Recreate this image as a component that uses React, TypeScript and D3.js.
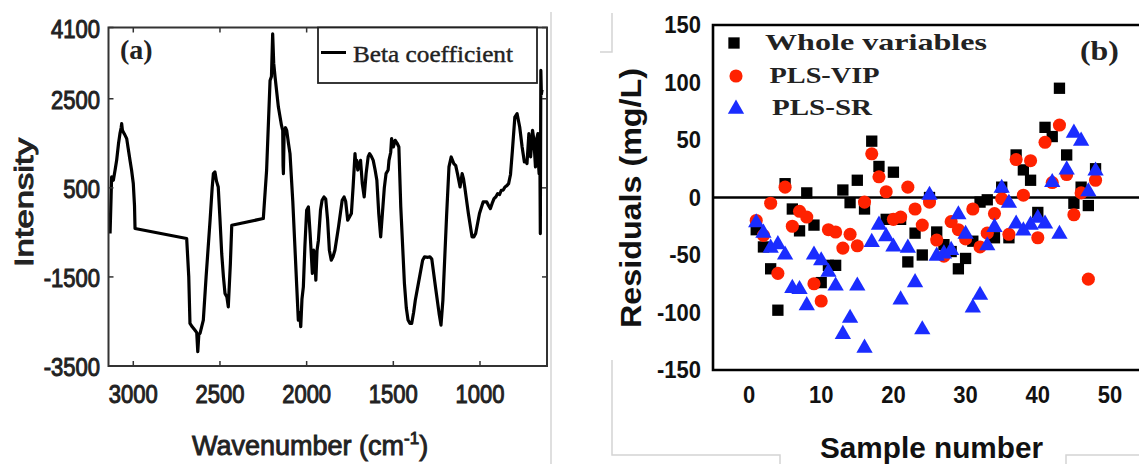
import React from 'react';
import * as d3 from 'd3';

// ---------- Panel (a): Beta coefficient spectrum ----------
const wavenumbers = [
  3134, 3128, 3125, 3120, 3115, 3105, 3096, 3085, 3077, 3070, 3067, 3063, 3058, 3050, 3038, 3030, 3019, 3010, 3000, 2993,
  2990, 2692, 2680, 2673, 2660, 2645, 2634, 2628, 2622, 2615, 2596, 2580, 2557, 2545, 2538, 2529, 2520, 2510, 2500, 2490,
  2480, 2471, 2460, 2452, 2440, 2432, 2250, 2231, 2211, 2203, 2196, 2190, 2182, 2163, 2145, 2138, 2136, 2134, 2130, 2122,
  2115, 2105, 2096, 2080, 2068, 2057, 2048, 2040, 2034, 2027, 2019, 2010, 2000, 1990, 1980, 1967, 1960, 1953, 1947, 1940,
  1932, 1920, 1911, 1900, 1890, 1879, 1869, 1858, 1848, 1837, 1816, 1795, 1784, 1775, 1763, 1752, 1742, 1732, 1721, 1716,
  1711, 1705, 1700, 1694, 1689, 1679, 1668, 1657, 1645, 1637, 1626, 1616, 1605, 1595, 1584, 1573, 1563, 1552, 1542, 1530,
  1525, 1515, 1510, 1500, 1489, 1478, 1468, 1457, 1436, 1425, 1415, 1404, 1394, 1383, 1373, 1352, 1331, 1320, 1300, 1289,
  1278, 1257, 1236, 1225, 1214, 1193, 1179, 1166, 1151, 1140, 1130, 1115, 1103, 1095, 1088, 1067, 1046, 1035, 1025, 1003,
  982, 961, 950, 940, 930, 919, 908, 898, 887, 877, 866, 856, 845, 835, 824, 813, 799, 786, 771, 757,
  744, 735, 729, 718, 712, 708, 700, 697, 690, 687, 680, 673, 666, 662, 659, 655, 652, 649, 646, 642
];
const betaCoefficient = [
  -525, 300, 744, 700, 670, 900, 1118, 1500, 1716, 1850, 1941, 1800, 1753, 1700, 1605, 1400, 1118, 900, 596, 100,
  -413, -637, -1500, -2543, -2620, -2693, -2750, -3180, -2800, -2767, -2469, -1500, -227, 500, 820, 856, 650, 520, -200, -974,
  -1500, -1870, -1950, -2171, -1200, -339, -189, 894, 2912, 3000, 3958, 3300, 2986, 2313, 1900, 1791, 1000, 820, 1700, 1850,
  1791, 1500, 1268, 200, -800, -1723, -2469, -2300, -2619, -2000, -1723, -800, -3, 72, -525, -1422, -900, -974, -1572, -900,
  -675, 0, 221, 296, 250, -227, -900, -1124, -1050, -900, -376, 221, 296, 200, -227, -150, -77, 520, 1268, 1000,
  1118, 900, 969, 1050, 1118, 595, 296, 819, 1200, 1268, 1200, 1118, 900, 670, -77, -600, -77, 500, 819, 900,
  1118, 1300, 1604, 1417, 1567, 1500, 1417, 72, -1647, -2200, -2469, -2544, -2544, -2300, -2020, -1572, -1124, -1049, -1060, -1049,
  -1100, -1722, -2319, -2581, -2020, -152, 969, 1193, 1044, 1000, 819, 520, 819, 700, 520, -77, -600, -600, -526, -77,
  184, 184, 100, 34, 150, 258, 300, 371, 350, 446, 450, 520, 550, 595, 800, 1343, 2090, 2165, 1866, 1418,
  1081, 1100, 1044, 1716, 1400, 1193, 1600, 1791, 1600, 1418, 969, 1600, 1716, 1000, 819, 1500, -526, 3136, 2600, 2700
];
const leftXTicks = [3000, 2500, 2000, 1500, 1000];
const leftYTicks = [4100, 2500, 500, -1500, -3500];

// ---------- Panel (b): Residuals ----------
const sampleNumbers = [
  1, 2, 3, 4, 5, 6, 7, 8, 9, 10, 11, 12, 13, 14, 15, 16, 17, 18, 19, 20, 21, 22, 23, 24,
  25, 26, 27, 28, 29, 30, 31, 32, 33, 34, 35, 36, 37, 38, 39, 40, 41, 42, 43, 44, 45, 46, 47, 48
];
const wholeVariables = [
  -28, -43, -62, -98, 12, -10, -29, 4, -24, -74, -59, -59, 6.5, -4.5, 15, -10, 49, 27, -19, 22, -19, -56, -31, -50,
  0, -30, -41, -47, -62, -53, -38, -4, -2, -35, 9, -35, 37, 24, 15, -13, 61, 53, 95, 37, -5, 9, -7, 25
];
const plsVip = [
  -20, -33, -5, -66, 9, -25, -12, -17, -75, -90, -28, -30, -44, -32, -42, -4, 38, 18, 5, -19, -17, 9, -10, -24,
  -4, -37, -51, -21, -28, -36, -10, -43, -31, -14, -1, -32, 33, 2, 32, -35, 48, 13, 63, 20, -15, 4, -71, 15
];
const plsSr = [
  -21, -30, -43, -40, -49, -78, -79, -93, -49, -54, -64, -76, -118, -104, -76, -130, -38, -23, -33, -42, -88, -43, -73, -114,
  3, -50, -48, -45, -14, -31, -95, -84, -41, -25, 9, -4, -22, -28, -23, -17, -22, 14, -31, 25, 57, 50, 6, 24
];
const rightXTicks = [0, 10, 20, 30, 40, 50];
const rightYTicks = [150, 100, 50, 0, -50, -100, -150];
const legendLabels = ['Whole variables', 'PLS-VIP', 'PLS-SR'];

const RED = '#ff2200';
const BLUE = '#1a2cff';

export default function App() {
  // Panel (a) scales
  const xA = d3.scaleLinear().domain([3143, 613.5]).range([108.5, 547]);
  const yA = d3.scaleLinear().domain([4100, -3500]).range([27.5, 366]);
  const specPts: [number, number][] = wavenumbers.map((w, i) => [w, betaCoefficient[i]]);
  const linePath = d3.line<[number, number]>().x(d => xA(d[0])).y(d => yA(d[1]))(specPts) || '';

  // Panel (b) scales
  const xB = d3.scaleLinear().domain([-5, 55]).range([749 - 5 * 7.22, 749 + 55 * 7.22]);
  const yB = d3.scaleLinear().domain([150, -150]).range([25, 370]);
  const sq = d3.symbol().type(d3.symbolSquare).size(128)() || '';
  const circ = d3.symbol().type(d3.symbolCircle).size(135)() || '';
  const tri = d3.symbol().type(d3.symbolTriangle).size(115)() || '';

  const leftTick = { fontFamily: '"Liberation Sans", Arial, sans-serif', fontSize: 22, fill: '#222', stroke: '#222', strokeWidth: 0.9 } as const;
  const rightTick = { fontFamily: '"Liberation Sans", Arial, sans-serif', fontSize: 22, fontWeight: 700, fill: '#111' } as const;
  const [xl0, xl1] = xA.range();
  const [yt0, yt1] = yA.range();

  return (
    <svg width={1139} height={464} style={{ position: 'absolute', left: 0, top: 0, background: '#fff' }}>
      <defs>
        <clipPath id="clipA"><rect x={xl0} y={yt0} width={xl1 - xl0} height={yt1 - yt0} /></clipPath>
        <clipPath id="clipB"><rect x={713} y={25} width={1139 - 713} height={345} /></clipPath>
      </defs>
      <rect x={0} y={0} width={1139} height={464} fill="#fff" />

      {/* faint image borders */}
      <g stroke="#d4d4d4" strokeWidth={1.5} fill="none">
        <line x1={551} y1={12} x2={551} y2={464} />
        <polyline points="600,52 612,52 612,13" />
        <polyline points="612,360 612,455 780,455 780,464" />
        <polyline points="1066,464 1066,455 1139,455" />
      </g>

      {/* ===== Panel (a) ===== */}
      <path d={linePath} fill="none" stroke="#000" strokeWidth={3.2} strokeLinejoin="round" clipPath="url(#clipA)" />
      <rect x={xl0} y={yt0} width={xl1 - xl0} height={yt1 - yt0} fill="none" stroke="#333" strokeWidth={2} />
      {leftXTicks.map(t => (
        <g key={'xa' + t}>
          <line x1={xA(t)} x2={xA(t)} y1={yt0} y2={yt0 + 5} stroke="#333" strokeWidth={1.5} />
          <line x1={xA(t)} x2={xA(t)} y1={yt1} y2={yt1 - 5} stroke="#333" strokeWidth={1.5} />
          <text transform={`translate(${xA(t)},403) scale(1,1.15)`} textAnchor="middle" {...leftTick}>{t}</text>
        </g>
      ))}
      {leftYTicks.map(t => (
        <g key={'ya' + t}>
          <line x1={xl0} x2={xl0 + 5} y1={yA(t)} y2={yA(t)} stroke="#333" strokeWidth={1.5} />
          <line x1={xl1} x2={xl1 - 5} y1={yA(t)} y2={yA(t)} stroke="#333" strokeWidth={1.5} />
          <text transform={`translate(100,${yA(t) + 10}) scale(1,1.15)`} textAnchor="end" {...leftTick}>{t}</text>
        </g>
      ))}
      <text transform="translate(33,202.5) rotate(-90)" textAnchor="middle" fontFamily='"Liberation Sans", Arial, sans-serif'
        fontSize={26} fill="#222" stroke="#222" strokeWidth={1} textLength={129} lengthAdjust="spacingAndGlyphs">Intensity</text>
      <text x={192} y={455} fontFamily='"Liberation Sans", Arial, sans-serif' fontSize={27} fill="#222" stroke="#222" strokeWidth={0.9}>
        Wavenumber (cm<tspan dy={-11} fontSize={17}>-1</tspan><tspan dy={11}>)</tspan>
      </text>
      <text x={120} y={59} fontFamily='"Liberation Serif", "Times New Roman", serif' fontWeight={700} fontSize={28} fill="#222">(a)</text>
      {/* legend (a) */}
      <rect x={318} y={yt0} width={537 - 318} height={83 - yt0} fill="#fff" stroke="#222" strokeWidth={1.8} />
      <line x1={321} x2={346} y1={52.5} y2={52.5} stroke="#000" strokeWidth={3} />
      <text x={353} y={62} fontFamily='"Liberation Serif", "Times New Roman", serif' fontSize={23} fill="#222" stroke="#222" strokeWidth={0.4}
        textLength={160} lengthAdjust="spacingAndGlyphs">Beta coefficient</text>

      {/* ===== Panel (b) ===== */}
      <g clipPath="url(#clipB)">
        <line x1={713} x2={1139} y1={yB(0)} y2={yB(0)} stroke="#000" strokeWidth={2.5} />
        {sampleNumbers.map((s, i) => (
          <path key={'w' + s} d={sq} transform={`translate(${xB(s)},${yB(wholeVariables[i])})`} fill="#000" />
        ))}
        {sampleNumbers.map((s, i) => (
          <path key={'v' + s} d={circ} transform={`translate(${xB(s)},${yB(plsVip[i])})`} fill={RED} />
        ))}
        {sampleNumbers.map((s, i) => (
          <path key={'r' + s} d={tri} transform={`translate(${xB(s)},${yB(plsSr[i]) + 1})`} fill={BLUE} />
        ))}
      </g>
      <polyline points={`1139,25 713,25 713,370 1139,370`} fill="none" stroke="#000" strokeWidth={2.6} />
      {rightYTicks.map(t => (
        <text key={'yb' + t} transform={`translate(701,${yB(t) + 8}) scale(1,1.05)`} textAnchor="end" {...rightTick}>{t}</text>
      ))}
      {rightXTicks.map(t => (
        <text key={'xb' + t} transform={`translate(${xB(t)},403) scale(1,1.05)`} textAnchor="middle" {...rightTick}>{t}</text>
      ))}
      <text transform="translate(641,198) rotate(-90)" textAnchor="middle" fontFamily='"Liberation Sans", Arial, sans-serif'
        fontSize={30} fontWeight={700} fill="#111" textLength={260} lengthAdjust="spacingAndGlyphs">Residuals (mg/L)</text>
      <text x={931.5} y={458} textAnchor="middle" fontFamily='"Liberation Sans", Arial, sans-serif'
        fontSize={29} fontWeight={700} fill="#111" textLength={223} lengthAdjust="spacingAndGlyphs">Sample number</text>
      <text x={1080} y={60} fontFamily='"Liberation Serif", "Times New Roman", serif' fontWeight={700} fontSize={28} fill="#222"
        textLength={39} lengthAdjust="spacingAndGlyphs">(b)</text>
      {/* legend (b) */}
      <path d={sq} transform="translate(734,43)" fill="#000" />
      <path d={circ} transform="translate(736,76)" fill={RED} />
      <path d={tri} transform="translate(736,109)" fill={BLUE} />
      <text x={765} y={50} fontFamily='"Liberation Serif", "Times New Roman", serif' fontWeight={700} fontSize={24} fill="#222"
        textLength={222} lengthAdjust="spacingAndGlyphs">{legendLabels[0]}</text>
      <text x={769.5} y={83} fontFamily='"Liberation Serif", "Times New Roman", serif' fontWeight={700} fontSize={24} fill="#222"
        textLength={110} lengthAdjust="spacingAndGlyphs">{legendLabels[1]}</text>
      <text x={772} y={115} fontFamily='"Liberation Serif", "Times New Roman", serif' fontWeight={700} fontSize={24} fill="#222"
        textLength={100} lengthAdjust="spacingAndGlyphs">{legendLabels[2]}</text>
    </svg>
  );
}
